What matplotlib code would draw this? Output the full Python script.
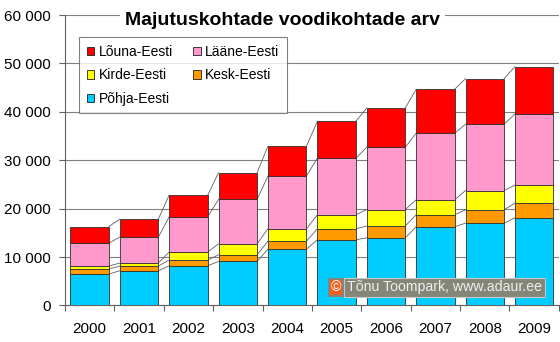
import matplotlib.pyplot as plt
import matplotlib.patches as mpatches
import numpy as np

plt.rcParams['font.family'] = ['Liberation Sans', 'DejaVu Sans']

# --- Daten ---
years = ['2000', '2001', '2002', '2003', '2004', '2005', '2006', '2007', '2008', '2009']
pohja = [6480, 7160, 8190, 9080, 11640, 13560, 13970, 16240, 17000, 18100]
kesk = [1030, 970, 1180, 1380, 1650, 2270, 2420, 2480, 2750, 3030]
kirde = [620, 620, 1650, 2270, 2560, 2890, 3420, 3100, 3990, 3720]
laane = [4750, 5370, 7280, 9190, 10900, 11700, 12880, 13760, 13700, 14710]
louna = [3420, 3710, 4480, 5530, 6150, 7640, 8110, 9080, 9410, 9770]

series = [
    ('Põhja-Eesti', pohja, '#00CCFF'),
    ('Kesk-Eesti', kesk, '#FF9900'),
    ('Kirde-Eesti', kirde, '#FFFF00'),
    ('Lääne-Eesti', laane, '#FF99CC'),
    ('Lõuna-Eesti', louna, '#FF0000'),
]
yticks = [0, 10000, 20000, 30000, 40000, 50000, 60000]
ytick_labels = ['0', '10 000', '20 000', '30 000', '40 000', '50 000', '60 000']

fig = plt.figure(figsize=(5.6, 3.42), dpi=100)
ax = fig.add_axes([0.116, 0.107, 0.882, 0.849])

x = np.arange(len(years))
width = 0.78
bottom = np.zeros(len(years))
handles = {}
for name, vals, color in series:
    vals = np.array(vals)
    ax.bar(x, vals, width, bottom=bottom, color=color, edgecolor='#303030',
           linewidth=0.6, zorder=3)
    bottom = bottom + vals
    # Verbindungslinien zwischen den Säulen
    for i in range(len(years) - 1):
        ax.plot([x[i] + width / 2, x[i + 1] - width / 2], [bottom[i], bottom[i + 1]],
                color='#606060', linewidth=0.6, zorder=2)
    handles[name] = mpatches.Patch(facecolor=color, edgecolor='#202020', linewidth=0.6)

ax.set_xlim(-0.5, len(years) - 0.5)
ax.set_ylim(0, 60000)
ax.set_yticks(yticks)
ax.set_yticklabels(ytick_labels)
ax.grid(axis='y', color='#808080', linewidth=0.8, zorder=0)
ax.set_axisbelow(True)

ax.set_xticks(np.arange(len(years) + 1) - 0.5)
ax.set_xticklabels([])
ax.set_xticks(x, minor=True)
ax.set_xticklabels(years, minor=True)
ax.tick_params(axis='x', which='major', length=4, color='#606060', direction='out')
ax.tick_params(axis='x', which='minor', length=0, pad=12, labelsize=11)
ax.tick_params(axis='y', length=4, color='#606060', pad=6, labelsize=11)

for s in ['top', 'right']:
    ax.spines[s].set_visible(False)
for s in ['left', 'bottom']:
    ax.spines[s].set_color('#606060')
    ax.spines[s].set_linewidth(0.8)

order = ['Lõuna-Eesti', 'Kirde-Eesti', 'Põhja-Eesti', 'Lääne-Eesti', 'Kesk-Eesti']
leg = fig.legend([handles[n] for n in order], order, ncol=2,
                 loc='upper left', bbox_to_anchor=(0.141, 0.891),
                 fontsize=10, frameon=True, fancybox=False,
                 handlelength=0.55, handleheight=0.55, handletextpad=0.3,
                 columnspacing=1.5, labelspacing=0.68, borderpad=0.55,
                 borderaxespad=0)
leg.get_frame().set_edgecolor('#606060')
leg.get_frame().set_linewidth(0.8)

fig.text(0.505, 0.94, 'Majutuskohtade voodikohtade arv', ha='center', va='center',
         fontsize=14, fontweight='bold',
         bbox=dict(facecolor='white', edgecolor='none', pad=3.5))

# Copyright-Feld: oranges ©-Kästchen und grauer Textkasten nebeneinander
fig.text(331 / 560, 1 - 287.5 / 342, '©', ha='left', va='center', fontsize=10.2,
         color='white', zorder=7,
         bbox=dict(facecolor='#F06020', edgecolor='#858578', linewidth=1.5, pad=1.2))
fig.text(347 / 560, 1 - 287.5 / 342, 'Tõnu Toompark, www.adaur.ee', ha='left',
         va='center', fontsize=10.2, color='#F0F0F0', zorder=6,
         bbox=dict(facecolor='#858578', edgecolor='#C8C8C8', linewidth=0.8, pad=2))

fig.savefig('out.png', dpi=100)
